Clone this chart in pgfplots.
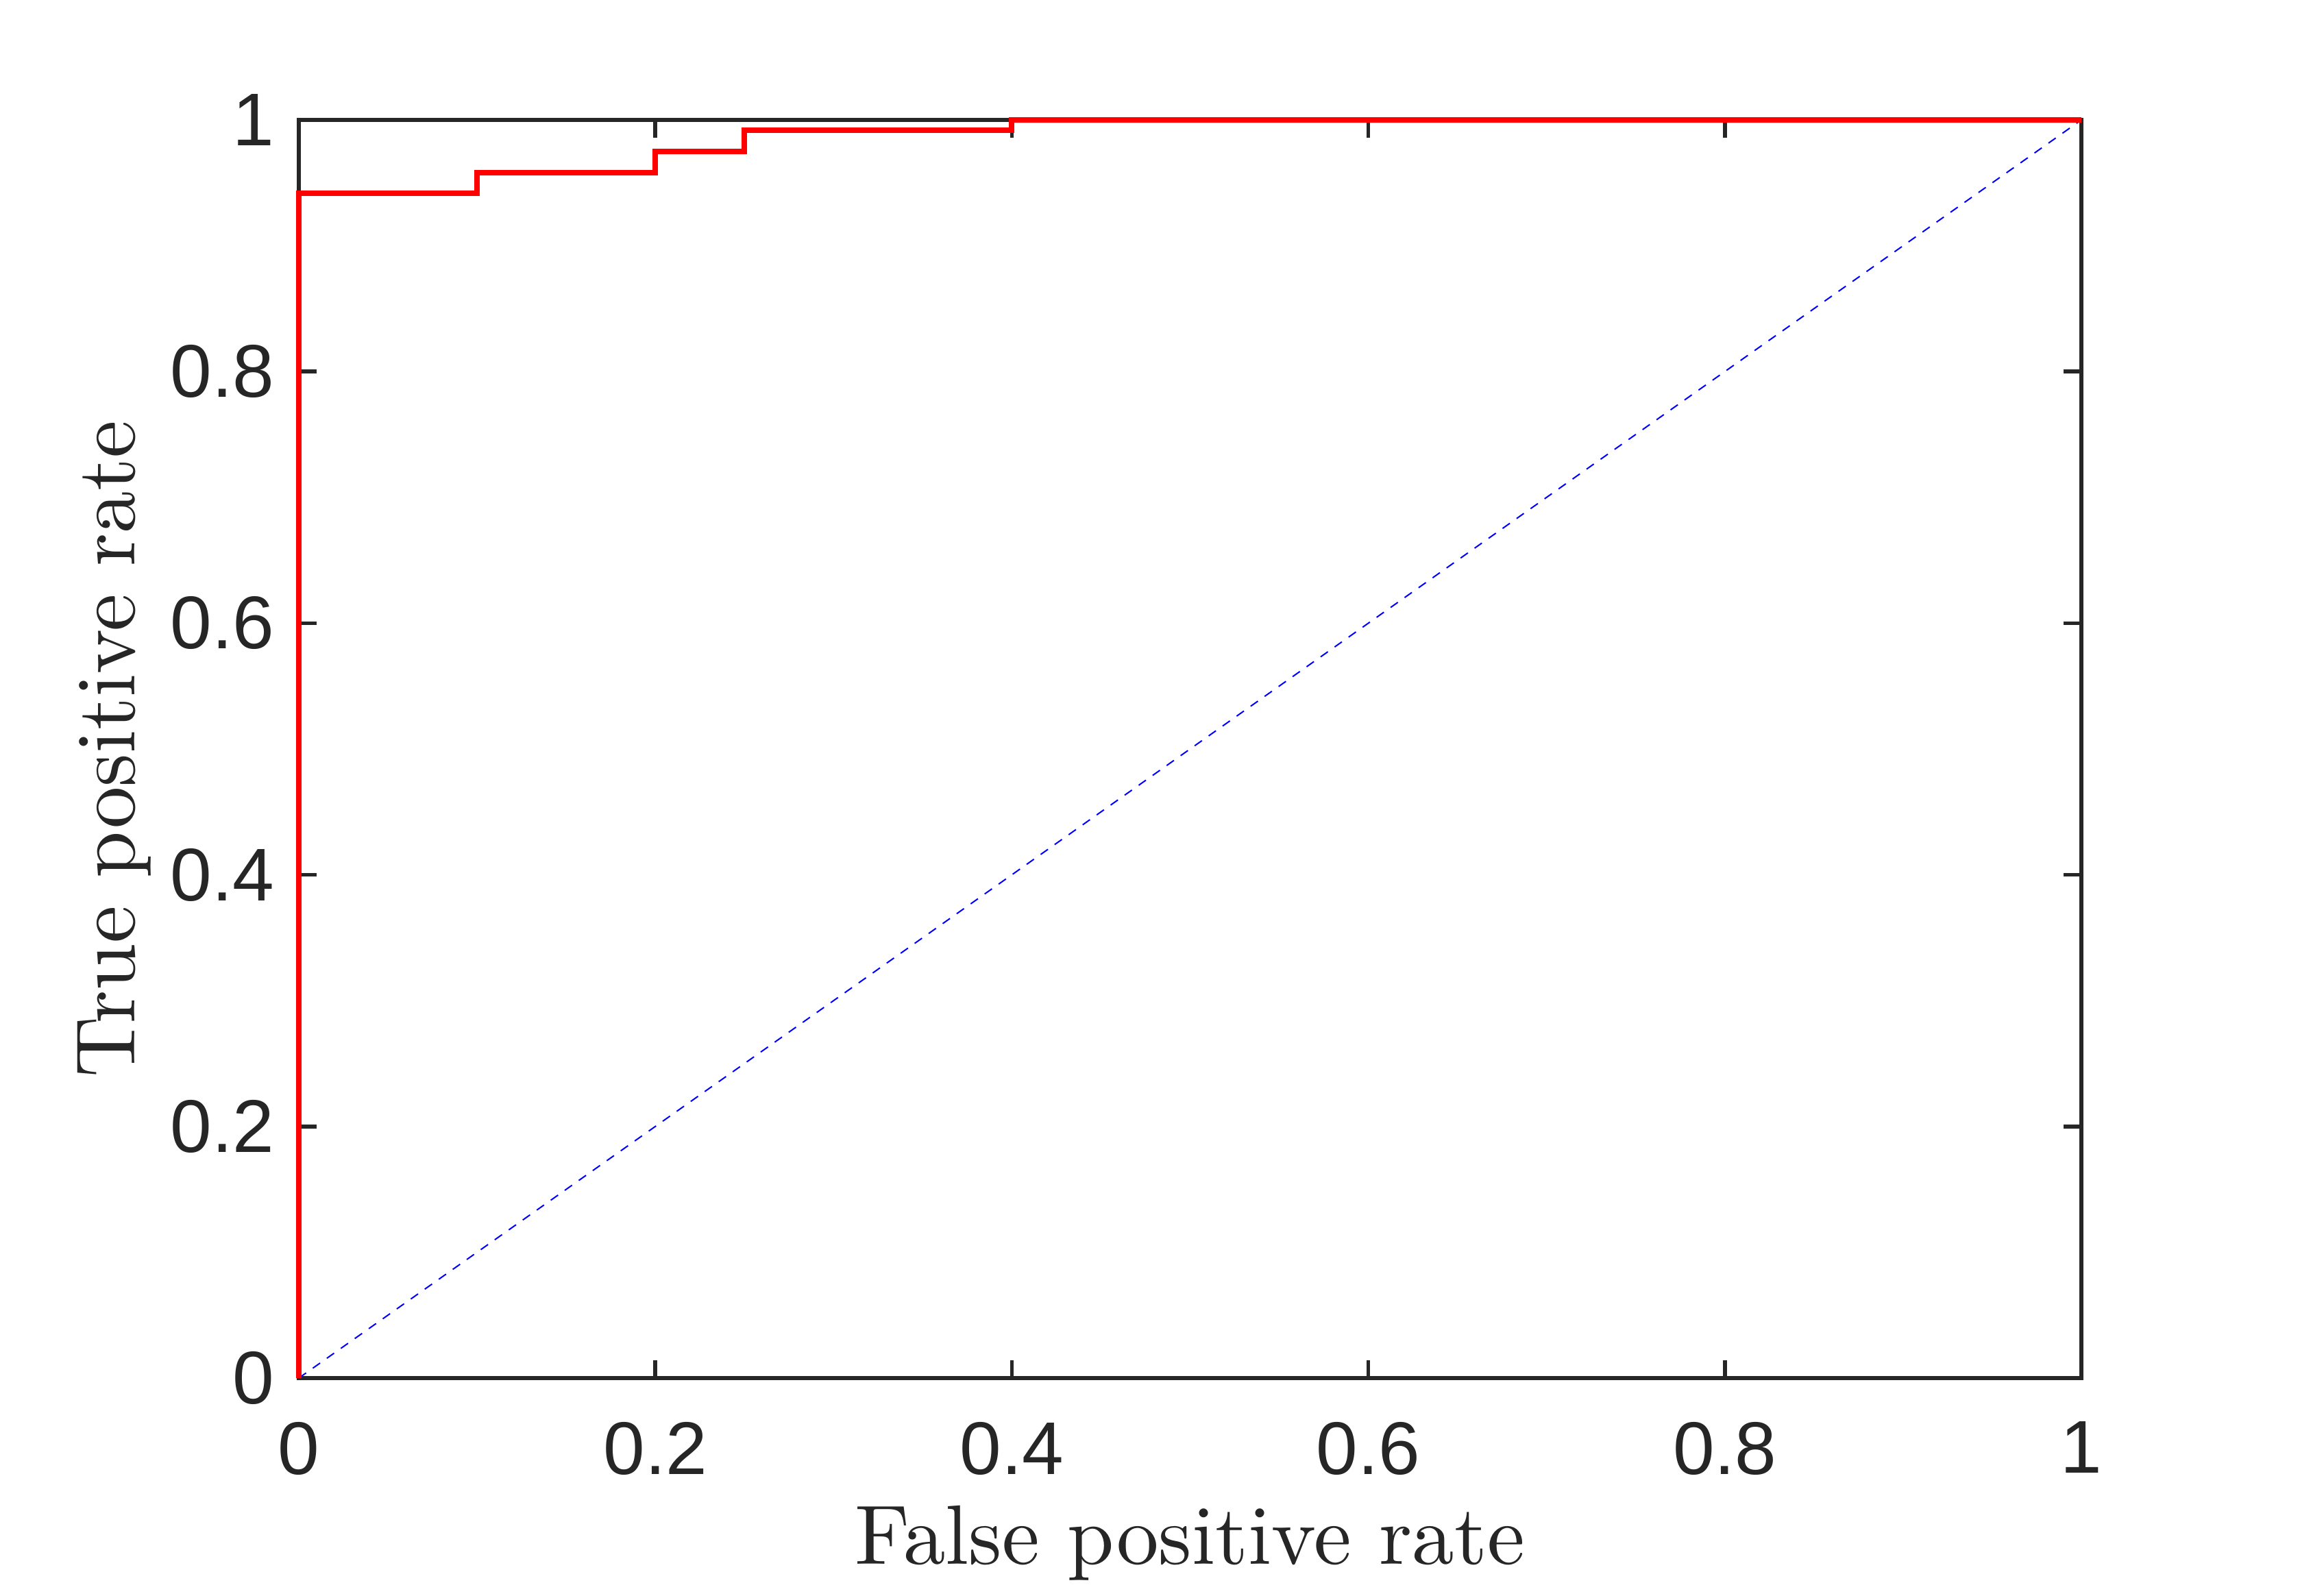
\documentclass[border=0pt]{standalone}
\usepackage{fontspec}
\newfontfamily\tickfont{Liberation Sans}
\newfontfamily\labfont{lmroman10-regular}[Extension=.otf]
\usepackage{pgfplots}
\pgfplotsset{compat=1.18}
\definecolor{axgray}{RGB}{38,38,38}

\begin{document}
\begin{tikzpicture}
\begin{axis}[
  scale only axis,
  width=260.1pt, height=183.6pt,
  xmin=0, xmax=1, ymin=0, ymax=1,
  xtick={0,0.2,0.4,0.6,0.8,1},
  ytick={0,0.2,0.4,0.6,0.8,1},
  tick align=inside,
  major tick length=2.6pt,
  axis line style={draw=axgray, line width=0.55pt},
  every tick/.style={draw=axgray, line width=0.55pt},
  tick label style={font=\tickfont\fontsize{10.9}{12}\selectfont, text=axgray, inner sep=0pt},
  /pgf/number format/assume math mode=true,
  xticklabel shift=6.2pt,
  yticklabel shift=3.4pt,
  label style={font=\labfont\fontsize{12.3}{14}\selectfont, text=axgray, inner sep=0pt},
  xlabel={False positive rate},
  ylabel={True positive rate},
  xlabel style={at={(axis description cs:0.5,0)}, anchor=base, yshift=-27.2pt},
  ylabel style={at={(axis description cs:0,0.5)}, anchor=base, yshift=23.9pt},
  clip=false,
]
% diagonal reference
\addplot[blue, line width=0.2pt, dash pattern=on 1.3pt off 1.2pt] coordinates {(0,0) (1,1)};
% ROC curve
\addplot[red, line width=0.8pt, line join=miter] coordinates {
  (0,0) (0,0.9417) (0.1,0.9417) (0.1,0.9583) (0.2,0.9583) (0.2,0.975)
  (0.25,0.975) (0.25,0.9917) (0.4,0.9917) (0.4,1) (1,1)
};
\end{axis}
\path (current axis.south west) ++(-43.6pt,-31.8pt) rectangle ++(335.6pt,232.9pt);
\end{tikzpicture}
\end{document}
